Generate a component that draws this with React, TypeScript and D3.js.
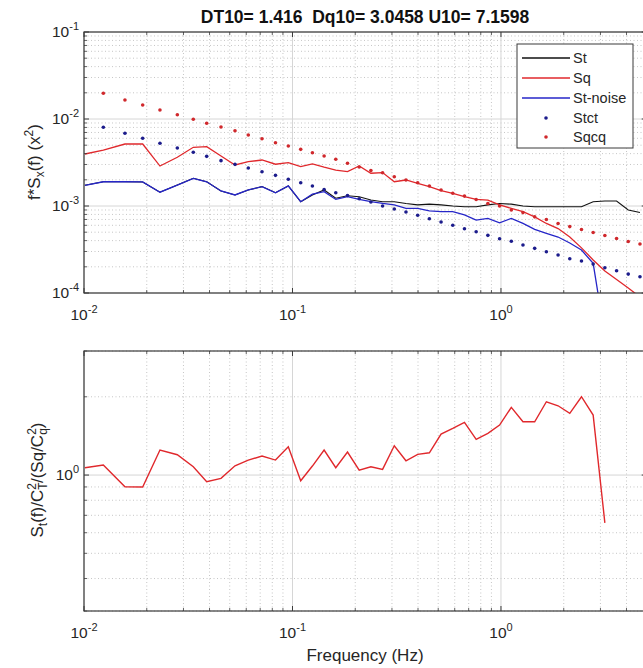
import React from "react";
import * as d3 from "d3";

// ---------- data ----------
const freq = [0.0101, 0.01238, 0.01572, 0.01912, 0.02314, 0.02803, 0.03344, 0.03877, 0.04541, 0.0530,
  0.06138, 0.07142, 0.08289, 0.09548, 0.1095, 0.1246, 0.1418, 0.1613, 0.1836, 0.2089,
  0.2377, 0.2705, 0.3078, 0.3502, 0.3986, 0.4535, 0.5160, 0.5872, 0.6682, 0.7604,
  0.8653, 0.9847, 1.121, 1.275, 1.451, 1.651, 1.879, 2.138, 2.433, 2.768,
  3.150, 3.585, 4.079, 4.642];

const St = [1.73e-3, 1.90e-3, 1.90e-3, 1.89e-3, 1.44e-3, 1.74e-3, 2.08e-3, 1.90e-3, 1.49e-3, 1.34e-3,
  1.53e-3, 1.67e-3, 1.42e-3, 1.70e-3, 1.12e-3, 1.34e-3, 1.53e-3, 1.23e-3, 1.31e-3, 1.28e-3,
  1.17e-3, 1.12e-3, 1.12e-3, 1.07e-3, 1.03e-3, 1.05e-3, 1.03e-3, 1.0e-3, 9.8e-4, 9.8e-4,
  1.03e-3, 1.07e-3, 1.05e-3, 1.0e-3, 9.8e-4, 9.8e-4, 9.8e-4, 9.8e-4, 9.8e-4, 1.12e-3,
  1.14e-3, 1.14e-3, 9.0e-4, 8.4e-4];

const Sq = [3.96e-3, 4.40e-3, 5.16e-3, 5.16e-3, 2.88e-3, 3.63e-3, 4.73e-3, 4.81e-3, 3.76e-3, 2.96e-3,
  3.23e-3, 3.38e-3, 3.02e-3, 3.15e-3, 2.83e-3, 3.04e-3, 2.79e-3, 2.59e-3, 2.48e-3, 2.88e-3,
  2.38e-3, 2.42e-3, 1.90e-3, 1.99e-3, 1.82e-3, 1.67e-3, 1.50e-3, 1.40e-3, 1.28e-3, 1.19e-3,
  1.17e-3, 1.03e-3, 9.4e-4, 8.6e-4, 7.5e-4, 6.3e-4, 5.5e-4, 4.4e-4, 3.3e-4, 2.4e-4,
  1.79e-4, 1.43e-4, 1.14e-4, 9.0e-5];

const StNoise = [1.73e-3, 1.90e-3, 1.90e-3, 1.89e-3, 1.44e-3, 1.74e-3, 2.08e-3, 1.90e-3, 1.49e-3, 1.34e-3,
  1.53e-3, 1.67e-3, 1.42e-3, 1.70e-3, 1.12e-3, 1.37e-3, 1.46e-3, 1.19e-3, 1.28e-3, 1.19e-3,
  1.12e-3, 1.07e-3, 1.03e-3, 9.4e-4, 9.4e-4, 8.8e-4, 8.6e-4, 8.6e-4, 7.9e-4, 6.9e-4,
  7.2e-4, 6.4e-4, 7.2e-4, 6.3e-4, 5.4e-4, 4.85e-4, 4.4e-4, 3.76e-4, 3.12e-4, 2.19e-4,
  3.2e-5, null, null, null];

const Stct = [null, 8.03e-3, 6.85e-3, 6.00e-3, 5.26e-3, 4.64e-3, 4.14e-3, 3.72e-3, 3.32e-3, 3.01e-3,
  2.73e-3, 2.48e-3, 2.25e-3, 2.03e-3, 1.85e-3, 1.70e-3, 1.55e-3, 1.42e-3, 1.32e-3, 1.21e-3,
  1.11e-3, 1.00e-3, 9.24e-4, 8.53e-4, 7.82e-4, 7.14e-4, 6.55e-4, 6.00e-4, 5.48e-4, 5.06e-4,
  4.60e-4, 4.21e-4, 3.93e-4, 3.56e-4, 3.26e-4, 2.98e-4, 2.73e-4, 2.48e-4, 2.33e-4, 2.15e-4,
  1.95e-4, 1.80e-4, 1.65e-4, 1.54e-4];

const Sqcq = [null, 1.974e-2, 1.654e-2, 1.449e-2, 1.269e-2, 1.120e-2, 9.92e-3, 8.93e-3, 8.09e-3, 7.33e-3,
  6.55e-3, 5.94e-3, 5.34e-3, 4.89e-3, 4.48e-3, 4.10e-3, 3.76e-3, 3.44e-3, 3.10e-3, 2.81e-3,
  2.56e-3, 2.41e-3, 2.17e-3, 1.99e-3, 1.85e-3, 1.70e-3, 1.53e-3, 1.40e-3, 1.30e-3, 1.19e-3,
  1.07e-3, 1.00e-3, 9.0e-4, 8.4e-4, 7.5e-4, 7.0e-4, 6.3e-4, 5.8e-4, 5.37e-4, 4.96e-4,
  4.58e-4, 4.23e-4, 3.91e-4, 3.66e-4];

const ratio = [1.067, 1.093, 0.902, 0.899, 1.248, 1.197, 1.076, 0.942, 0.971, 1.086,
  1.142, 1.183, 1.142, 1.285, 0.951, 1.083, 1.248, 1.067, 1.226, 1.045,
  1.076, 1.052, 1.296, 1.135, 1.201, 1.218, 1.438, 1.512, 1.595, 1.372,
  1.447, 1.557, 1.821, 1.603, 1.603, 1.914, 1.847, 1.727, 2.001, 1.701,
  0.655, null, null, null];

const xMajor = [0.01, 0.1, 1];
const xMajorExp = ["-2", "-1", "0"];
const topYMajor = [1e-4, 1e-3, 1e-2, 1e-1];
const topYMajorExp = ["-4", "-3", "-2", "-1"];
const botYMajor = [1];
const botYMajorExp = ["0"];

const titleText = "DT10= 1.416  Dq10= 3.0458 U10= 7.1598";
const legendNames = ["St", "Sq", "St-noise", "Stct", "Sqcq"];

// ---------- styles ----------
const FONT = "'Liberation Sans', Arial, Helvetica, sans-serif";
const AX = "#3a3a3a";
const TXT = "#262626";
const RED = "#e0282c";
const BLUE = "#2626c8";
const BLACK = "#111111";
const DOT_BLUE = "#1c1c8c";
const DOT_RED = "#d0282c";

const x = d3.scaleLog().domain([0.01, 5]).range([84, 646.7]);
const yTop = d3.scaleLog().domain([1e-4, 1e-1]).range([293, 32]);
const yBot = d3.scaleLog().domain([0.3, 3]).range([611, 351]);

function minorTicks(lo: number, hi: number) {
  const out: number[] = [];
  for (let e = Math.floor(Math.log10(lo)); e <= Math.ceil(Math.log10(hi)); e++) {
    for (let k = 2; k <= 9; k++) {
      const v = k * Math.pow(10, e);
      if (v >= lo * 0.9999 && v <= hi * 1.0001) out.push(v);
    }
  }
  return out;
}

const xMinor = minorTicks(0.01, 5);

function Panel({ y, yMajor, yExp, showXLabels }: any) {
  const [y0, y1] = y.range();
  const yMin = minorTicks(y.domain()[0], y.domain()[1]);
  const xl = x.range()[0], xr = x.range()[1];
  const top = y1, bot = y0;
  const els: any[] = [];
  // minor grid
  xMinor.forEach((v, i) => els.push(<line key={"gxm" + i} x1={x(v)} x2={x(v)} y1={top} y2={bot} stroke="#b8b8b8" strokeWidth={0.8} strokeDasharray="1,2.5" />));
  yMin.forEach((v, i) => els.push(<line key={"gym" + i} x1={xl} x2={xr} y1={y(v)} y2={y(v)} stroke="#b8b8b8" strokeWidth={0.8} strokeDasharray="1,2.5" />));
  // major grid
  xMajor.forEach((v, i) => els.push(<line key={"gx" + i} x1={x(v)} x2={x(v)} y1={top} y2={bot} stroke="#d6d6d6" strokeWidth={1} />));
  yMajor.forEach((v: number, i: number) => els.push(<line key={"gy" + i} x1={xl} x2={xr} y1={y(v)} y2={y(v)} stroke="#d6d6d6" strokeWidth={1} />));
  return <g>{els}</g>;
}

function Frame({ y, yMajor, yExp, xLabelY }: any) {
  const [y0, y1] = y.range();
  const yMin = minorTicks(y.domain()[0], y.domain()[1]);
  const xl = x.range()[0], xr = x.range()[1];
  const els: any[] = [];
  const maj = 5, mnr = 3;
  xMajor.forEach((v, i) => {
    els.push(<line key={"tx" + i} x1={x(v)} x2={x(v)} y1={y0} y2={y0 - maj} stroke={AX} />);
    els.push(<line key={"ttx" + i} x1={x(v)} x2={x(v)} y1={y1} y2={y1 + maj} stroke={AX} />);
  });
  xMinor.forEach((v, i) => {
    els.push(<line key={"txm" + i} x1={x(v)} x2={x(v)} y1={y0} y2={y0 - mnr} stroke={AX} strokeWidth={0.8} />);
    els.push(<line key={"ttxm" + i} x1={x(v)} x2={x(v)} y1={y1} y2={y1 + mnr} stroke={AX} strokeWidth={0.8} />);
  });
  yMajor.forEach((v: number, i: number) => {
    els.push(<line key={"ty" + i} x1={xl} x2={xl + maj} y1={y(v)} y2={y(v)} stroke={AX} />);
    els.push(<line key={"try" + i} x1={xr} x2={xr - maj} y1={y(v)} y2={y(v)} stroke={AX} />);
  });
  yMin.forEach((v, i) => {
    els.push(<line key={"tym" + i} x1={xl} x2={xl + mnr} y1={y(v)} y2={y(v)} stroke={AX} strokeWidth={0.8} />);
    els.push(<line key={"trym" + i} x1={xr} x2={xr - mnr} y1={y(v)} y2={y(v)} stroke={AX} strokeWidth={0.8} />);
  });
  els.push(<rect key="box" x={xl} y={y1} width={xr - xl} height={y0 - y1} fill="none" stroke={AX} strokeWidth={1.2} />);
  // tick labels
  xMajor.forEach((v, i) => els.push(
    <text key={"lx" + i} x={x(v)} y={xLabelY} textAnchor="middle" fontSize={15.5} fill={TXT}>
      10<tspan dy={-7} fontSize={11}>{xMajorExp[i]}</tspan>
    </text>));
  yMajor.forEach((v: number, i: number) => els.push(
    <text key={"ly" + i} x={79} y={y(v) + 5} textAnchor="end" fontSize={15.5} fill={TXT}>
      10<tspan dy={-7} fontSize={11}>{yExp[i]}</tspan>
    </text>));
  return <g>{els}</g>;
}

function App() {
  const idx = d3.range(freq.length);
  const lineTop = (arr: (number | null)[]) =>
    d3.line<number>()
      .defined((i) => arr[i] != null && (arr[i] as number) > 0)
      .x((i) => x(freq[i]))
      .y((i) => yTop(arr[i] as number))(idx) || "";
  const lineBot = d3.line<number>()
    .defined((i) => ratio[i] != null)
    .x((i) => x(freq[i]))
    .y((i) => yBot(ratio[i] as number))(idx) || "";

  const [tb, tt] = yTop.range();
  const [bb, bt] = yBot.range();
  const [xl, xr] = x.range();

  const legendX = 517, legendY = 44, legendW = 116, legendH = 104;
  const rowY = [58, 78, 98, 118, 137];
  const legendStyle = [
    { type: "line", color: BLACK },
    { type: "line", color: RED },
    { type: "line", color: BLUE },
    { type: "dot", color: DOT_BLUE },
    { type: "dot", color: DOT_RED },
  ];

  return (
    <svg width={643} height={668} style={{ position: "absolute", left: 0, top: 0, background: "#fff" }} fontFamily={FONT}>
      <defs>
        <clipPath id="clipTop"><rect x={xl} y={tt} width={xr - xl} height={tb - tt} /></clipPath>
        <clipPath id="clipBot"><rect x={xl} y={bt} width={xr - xl} height={bb - bt} /></clipPath>
      </defs>
      <rect x={0} y={0} width={643} height={668} fill="#fff" />

      {/* Title */}
      <text x={365} y={23} textAnchor="middle" fontSize={17.5} fontWeight="bold" fill="#111" style={{ whiteSpace: "pre" }}>{titleText}</text>

      {/* Top panel */}
      <rect x={xl} y={tt} width={xr - xl} height={tb - tt} fill="#fff" />
      <Panel y={yTop} yMajor={topYMajor} />
      <g clipPath="url(#clipTop)">
        <path d={lineTop(St)} fill="none" stroke={BLACK} strokeWidth={1.1} />
        <path d={lineTop(Sq)} fill="none" stroke={RED} strokeWidth={1.3} />
        <path d={lineTop(StNoise)} fill="none" stroke={BLUE} strokeWidth={1.3} />
        {idx.filter((i) => Stct[i] != null).map((i) => (
          <circle key={"sc" + i} cx={x(freq[i])} cy={yTop(Stct[i] as number)} r={1.8} fill={DOT_BLUE} />
        ))}
        {idx.filter((i) => Sqcq[i] != null).map((i) => (
          <circle key={"sq" + i} cx={x(freq[i])} cy={yTop(Sqcq[i] as number)} r={1.8} fill={DOT_RED} />
        ))}
      </g>
      <Frame y={yTop} yMajor={topYMajor} yExp={topYMajorExp} xLabelY={320} />

      {/* Top y label */}
      <text transform={`translate(40,162) rotate(-90)`} textAnchor="middle" fontSize={17} fill={TXT}>
        f*S<tspan dy={4} fontSize={12}>x</tspan><tspan dy={-4}>(f) (x</tspan><tspan dy={-7} fontSize={12}>2</tspan><tspan dy={7}>)</tspan>
      </text>

      {/* Legend */}
      <rect x={legendX} y={legendY} width={legendW} height={legendH} fill="#fff" stroke={AX} strokeWidth={1} />
      {legendNames.map((name, i) => (
        <g key={"lg" + i}>
          {legendStyle[i].type === "line" ? (
            <line x1={522} x2={570} y1={rowY[i]} y2={rowY[i]} stroke={legendStyle[i].color} strokeWidth={1.3} />
          ) : (
            <circle cx={546} cy={rowY[i]} r={1.8} fill={legendStyle[i].color} />
          )}
          <text x={573} y={rowY[i] + 5} fontSize={14.5} fill={TXT}>{name}</text>
        </g>
      ))}

      {/* Bottom panel */}
      <Panel y={yBot} yMajor={botYMajor} />
      <g clipPath="url(#clipBot)">
        <path d={lineBot} fill="none" stroke={RED} strokeWidth={1.4} />
      </g>
      <Frame y={yBot} yMajor={botYMajor} yExp={botYMajorExp} xLabelY={638} />

      {/* Bottom y label */}
      <text transform={`translate(43,480) rotate(-90)`} textAnchor="middle" fontSize={17} fill={TXT}>
        S<tspan dy={4} fontSize={12}>t</tspan><tspan dy={-4}>(f)/C</tspan><tspan dy={4} fontSize={12}>T</tspan><tspan dx={-7.3} dy={-11} fontSize={12}>2</tspan><tspan dy={7}>/(Sq/C</tspan><tspan dy={4} fontSize={12}>q</tspan><tspan dx={-6.7} dy={-11} fontSize={12}>2</tspan><tspan dy={7}>)</tspan>
      </text>

      {/* x label */}
      <text x={365} y={661} textAnchor="middle" fontSize={17} fill={TXT}>Frequency (Hz)</text>
    </svg>
  );
}

export default App;
